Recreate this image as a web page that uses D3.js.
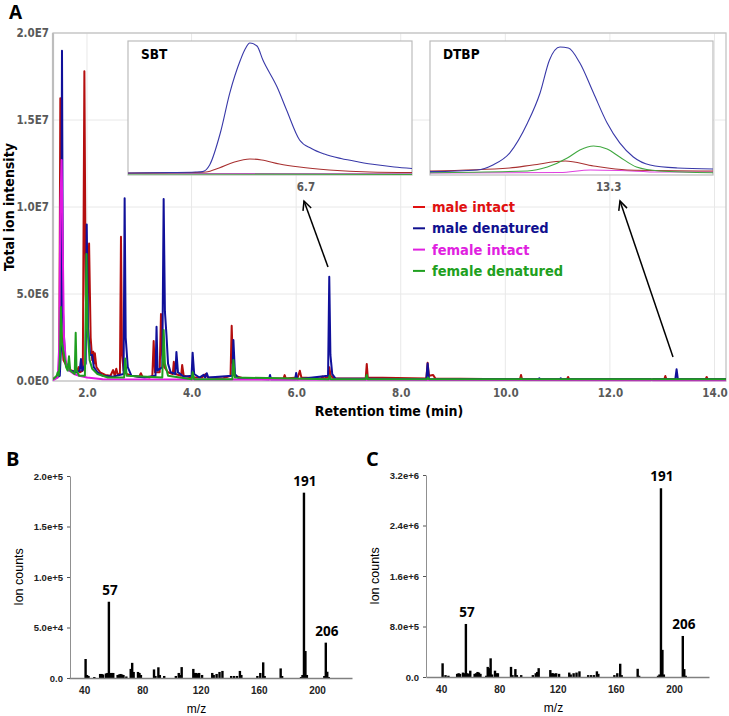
<!DOCTYPE html>
<html><head><meta charset="utf-8">
<script src="https://cdn.jsdelivr.net/npm/d3@7"></script>
<style>body{margin:0;background:#fff}svg{display:block}</style>
</head><body>
<svg id="c" width="729" height="716"></svg>
<script>
// ---------- DATA ----------
const seriesNames = ["male intact","male denatured","female intact","female denatured"];
const seriesColors = ["#b40e0e","#10109a","#e018e0","#1f9e1f"];
const legendColors = ["#e01010","#10108f","#e020e0","#20a020"];
const xTicksA = [2,4,6,8,10,12,14];
const yTicksA = [0,5e6,1e7,1.5e7,2e7];
const yTickLabelsA = ["0.0E0","5.0E6","1.0E7","1.5E7","2.0E7"];

// chromatogram points [time (min), total ion intensity]
const maleIntact = [[1.35,1e5],[1.44,3e5],[1.47,6e5],[1.49,1.625e7],[1.51,3e6],[1.55,1.2e6],[1.62,8e5],[1.70,6e5],[1.80,5e5],[1.84,8e5],[1.86,5e5],[1.92,6e5],[1.95,1.78e7],[1.975,5e6],[2.0,3e6],[2.04,7.9e6],[2.07,2.5e6],[2.10,1.2e6],[2.12,1.68e6],[2.135,1.0e6],[2.15,1.6e6],[2.18,8e5],[2.25,5e5],[2.35,3.5e5],[2.45,3e5],[2.50,6.3e5],[2.53,3e5],[2.56,7e5],[2.59,3.5e5],[2.63,4e5],[2.65,8.29e6],[2.67,1.5e6],[2.70,6e5],[2.76,4e5],[2.85,3e5],[3.0,2.5e5],[3.03,4.5e5],[3.06,2.5e5],[3.20,2e5],[3.25,3e5],[3.275,2.3e6],[3.30,5e5],[3.39,5e5],[3.415,3.85e6],[3.44,1.5e6],[3.48,8e5],[3.55,5e5],[3.64,4e5],[3.66,1.1e6],[3.69,4e5],[3.80,3e5],[3.82,9.2e5],[3.85,3e5],[4.0,2e5],[4.2,2e5],[4.27,4e5],[4.31,2e5],[4.6,1.5e5],[4.745,3e5],[4.767,3.18e6],[4.79,1.0e6],[4.82,3e5],[5.0,1.5e5],[5.76,1.5e5],[5.78,3.4e5],[5.80,1.5e5],[6.03,2e5],[6.07,5.9e5],[6.10,2e5],[6.48,1.5e5],[6.5,2.5e5],[6.52,1.5e5],[6.61,2e5],[6.633,7.9e5],[6.66,3e5],[6.72,1.5e5],[7.33,1.5e5],[7.35,9.8e5],[7.37,2e5],[8.49,1.5e5],[8.514,1.05e6],[8.54,3e5],[8.62,3.5e5],[8.66,1.5e5],[10.28,1e5],[10.30,3.4e5],[10.32,1e5],[11.18,1e5],[11.2,2.3e5],[11.22,1e5],[13.04,1e5],[13.06,2.9e5],[13.08,1e5],[13.83,1e5],[13.85,2.3e5],[13.87,1e5],[14.22,1e5]];
const maleDenatured = [[1.35,1e5],[1.48,3e5],[1.505,2e6],[1.522,1.898e7],[1.54,4e6],[1.58,1.2e6],[1.66,6e5],[1.80,5e5],[1.86,6e5],[1.885,1.26e6],[1.91,6e5],[1.975,1.0e6],[1.995,9.0e6],[2.02,3e6],[2.06,1.5e6],[2.10,1.5e6],[2.13,8e5],[2.2,5e5],[2.3,3e5],[2.5,2.5e5],[2.70,4e5],[2.72,1.05e7],[2.74,2.5e6],[2.78,8e5],[2.85,3e5],[3.1,2e5],[3.31,3e5],[3.33,3.12e6],[3.35,6e5],[3.44,8e5],[3.466,1.046e7],[3.49,4e6],[3.52,2.64e6],[3.55,1.0e6],[3.6,5e5],[3.69,4e5],[3.71,1.67e6],[3.74,5e5],[3.85,2.5e5],[4.0,3e5],[4.02,1.63e6],[4.05,4e5],[4.15,2e5],[4.23,3.5e5],[4.26,2e5],[4.29,4.5e5],[4.32,2e5],[4.78,3e5],[4.80,2.36e6],[4.83,4e5],[4.9,1.5e5],[5.48,1e5],[5.5,3.4e5],[5.52,1e5],[5.98,1e5],[6.0,4.6e5],[6.02,1e5],[6.61,3e5],[6.633,5.99e6],[6.655,1.5e6],[6.69,4e5],[6.75,1.5e5],[8.49,1e5],[8.514,1.0e6],[8.54,1e5],[10.63,1e5],[10.65,1.5e5],[10.67,1e5],[11.04,1e5],[11.06,1.5e5],[11.08,1e5],[13.25,1e5],[13.275,6.7e5],[13.30,1e5],[14.22,1e5]];
const femaleIntact = [[1.35,5e4],[1.44,2e5],[1.47,2e6],[1.49,1.0e7],[1.515,1.27e7],[1.535,8e6],[1.56,2.5e6],[1.60,1.0e6],[1.66,6e5],[1.75,4e5],[1.85,3e5],[2.0,2e5],[2.3,1e5],[12.78,5e4],[12.8,1e5],[12.82,5e4],[14.22,5e4]];
const femaleDenatured = [[1.35,1e5],[1.42,3e5],[1.44,5e5],[1.46,3e5],[1.485,1.5e6],[1.50,4.25e6],[1.52,2.2e6],[1.56,1.5e6],[1.60,8e5],[1.63,6e5],[1.656,1.42e6],[1.68,6e5],[1.72,5e5],[1.765,4e5],[1.784,2.77e6],[1.80,6e5],[1.85,3e5],[1.96,3e5],[1.99,7.3e6],[2.01,3e6],[2.05,1.2e6],[2.1,7e5],[2.2,4e5],[2.4,2e5],[2.71,2e5],[2.73,1.3e6],[2.76,3e5],[3.44,2e5],[3.466,2.93e6],[3.49,1.0e6],[3.55,3e5],[4.0,1e5],[4.02,5e5],[4.05,1e5],[4.78,1e5],[4.80,1.2e6],[4.83,2e5],[6.62,1e5],[6.64,3e5],[6.66,1e5],[7.33,1e5],[7.35,3.5e5],[7.37,1e5],[8.5,1e5],[8.52,2e5],[8.54,1e5],[10.29,1e5],[10.30,1.5e5],[10.31,1e5],[14.22,1e5]];

// inset SBT [time, relative intensity]
const sbtBlue = [[6.550,0.8],[6.586,1.1],[6.607,1.5],[6.613,1.8],[6.619,6.9],[6.628,31.3],[6.636,61.8],[6.645,87],[6.649,95.4],[6.653,100],[6.659,97.7],[6.664,87],[6.676,66.4],[6.684,48.9],[6.695,26],[6.705,19.5],[6.716,15.2],[6.730,11.8],[6.745,9.2],[6.760,7.0],[6.775,5.4],[6.790,4.2]];
const sbtRed = [[6.550,0.8],[6.602,1.1],[6.616,1.5],[6.627,4.6],[6.640,9.2],[6.653,11.5],[6.663,10.7],[6.678,7.6],[6.695,5.3],[6.720,3.1],[6.754,1.5],[6.790,1.1]];
const sbtGreen = [[6.550,0],[6.790,-0.3]];
const sbtMagenta = [[6.550,0.4],[6.790,0.2]];
// inset DTBP
const dtbpBlue = [[13.130,1.8],[13.175,3.1],[13.190,6.9],[13.206,16],[13.223,38.9],[13.235,61.8],[13.244,87],[13.254,96.9],[13.262,96.2],[13.273,84.7],[13.286,61.8],[13.299,38.9],[13.311,23.7],[13.324,13],[13.340,6.9],[13.366,4.6],[13.400,3.8]];
const dtbpGreen = [[13.130,1.0],[13.223,2.3],[13.242,5.3],[13.261,12.2],[13.273,18.3],[13.286,21.4],[13.299,19.1],[13.311,13],[13.327,5.3],[13.349,2.3],[13.400,1.0]];
const dtbpRed = [[13.130,2.3],[13.206,4.6],[13.228,6.9],[13.259,9.9],[13.286,6.1],[13.318,3.1],[13.400,2.3]];
const dtbpMagenta = [[13.130,0.8],[13.254,1.1],[13.283,3.1],[13.311,2.7],[13.349,1.5],[13.400,1.5]];

// mass spectra [m/z, ion counts]
const specB = [[41,1.88e4],[42,3e3],[43,2e3],[47,1e3],[51,4e3],[52,4e3],[53,3.5e3],[55,4.5e3],[56,5e3],[57,7.55e4],[58,5e3],[59,5e3],[60,5e3],[63,3e3],[64,3.5e3],[65,4e3],[66,3.5e3],[67,3e3],[69,1.5e3],[72,9e3],[73,1.5e4],[74,6e3],[77,6e3],[78,5e3],[79,3e3],[88,8.5e3],[89,2e3],[91,1.06e4],[92,3e3],[95,2e3],[103,2e3],[105,5e3],[106,3e3],[107,1.08e4],[115,9e3],[116,5e3],[117,5e3],[118,4.5e3],[119,5e3],[121,3e3],[128,5e3],[129,3e3],[131,4e3],[133,6e3],[135,7e3],[141,2e3],[143,2e3],[145,2e3],[147,7e3],[148,3e3],[159,2e3],[161,5e3],[163,1.55e4],[164,2e3],[175,9.5e3],[176,2e3],[189,1e3],[190,3e3],[191,1.835e5],[192,2.67e4],[193,3e3],[205,2e3],[206,3.5e4],[207,6.2e3],[208,1e3]];
const specC = [[41,2.17e5],[43,3e4],[45,2e4],[51,5e4],[52,6e4],[53,5e4],[55,7e4],[56,6e4],[57,8.4e5],[58,6e4],[59,5e4],[60,1e5],[63,5e4],[64,6e4],[65,8e4],[66,7e4],[67,5e4],[71,2e4],[72,1.6e5],[73,1.4e5],[74,2.96e5],[75,4e4],[77,1e5],[78,6e4],[79,6e4],[88,1.6e5],[89,3e4],[91,1.25e5],[92,3e4],[95,3e4],[103,3e4],[105,6e4],[106,8e4],[107,1.4e5],[115,1.1e5],[116,6e4],[117,6e4],[118,5e4],[119,6e4],[121,5e4],[128,7e4],[129,4e4],[131,6e4],[133,7e4],[135,9e4],[141,3e4],[143,3e4],[145,3e4],[147,9e4],[148,5e4],[159,3e4],[161,6e4],[163,2.1e5],[164,3e4],[175,1.3e5],[176,2e4],[189,2e4],[190,4e4],[191,2.99e6],[192,4.3e5],[193,4e4],[206,6.5e5],[207,1.25e5],[208,2e4]];
const xTicksMS = [40,80,120,160,200];
const yTicksB = [0,5e4,1e5,1.5e5,2e5];
const yTickLabelsB = ["0.0","5.0e+4","1.0e+5","1.5e+5","2.0e+5"];
const yTicksC = [0,8e5,1.6e6,2.4e6,3.2e6];
const yTickLabelsC = ["0.0","8.0e+5","1.6e+6","2.4e+6","3.2e+6"];
const peakLabels = [57,191,206];

// ---------- DRAW ----------
const svg = d3.select("#c");
const FA = "DejaVu Sans Condensed, DejaVu Sans, Verdana, sans-serif";
const FB = "Liberation Sans, Arial, sans-serif";

// Panel A
const A = {l:53, r:726, t:33, b:381};
const x = d3.scaleLinear().domain([1.35,14.22]).range([A.l,A.r]);
const y = d3.scaleLinear().domain([0,2e7]).range([A.b,A.t]);

const gA = svg.append("g");
gA.append("g").selectAll("line").data(xTicksA).join("line")
  .attr("x1",d=>x(d)).attr("x2",d=>x(d)).attr("y1",A.t).attr("y2",A.b)
  .attr("stroke","#e8e8e8").attr("stroke-width",1);
gA.append("g").selectAll("line").data(yTicksA).join("line")
  .attr("x1",A.l).attr("x2",A.r).attr("y1",d=>y(d)).attr("y2",d=>y(d))
  .attr("stroke","#e8e8e8").attr("stroke-width",1);
gA.append("rect").attr("x",A.l).attr("y",A.t).attr("width",A.r-A.l).attr("height",A.b-A.t)
  .attr("fill","none").attr("stroke","#c4c4c4").attr("stroke-width",1.3);
gA.append("line").attr("x1",A.l).attr("x2",A.l).attr("y1",A.t).attr("y2",A.b)
  .attr("stroke","#bdbdbd").attr("stroke-width",2.2);

const axX = gA.append("g").attr("transform",`translate(0,${A.b})`)
  .call(d3.axisBottom(x).tickValues(xTicksA).tickSize(0).tickPadding(8).tickFormat(d3.format(".1f")));
axX.select(".domain").remove();
axX.selectAll("text").attr("font-family",FA).attr("font-weight","bold").attr("font-size",11.5).attr("fill","#595959");
const axY = gA.append("g").attr("transform",`translate(${A.l},0)`)
  .call(d3.axisLeft(y).tickValues(yTicksA).tickSize(0).tickPadding(4).tickFormat((d,i)=>yTickLabelsA[i]));
axY.select(".domain").remove();
axY.selectAll("text").attr("font-family",FA).attr("font-weight","bold").attr("font-size",11.5).attr("fill","#595959");

svg.append("defs").append("clipPath").attr("id","clipA").append("rect")
  .attr("x",A.l).attr("y",A.t).attr("width",A.r-A.l).attr("height",A.b-A.t+2);
const line = d3.line().x(d=>x(d[0])).y(d=>y(d[1]));
const traces = [maleIntact, maleDenatured, femaleIntact, femaleDenatured];
const gT = gA.append("g").attr("clip-path","url(#clipA)");
traces.forEach((tr,i)=>{
  gT.append("path").attr("d",line(tr)).attr("fill","none")
    .attr("stroke",seriesColors[i]).attr("stroke-width",2).attr("stroke-linejoin","round");
});

svg.append("text").attr("x",389).attr("y",416).attr("text-anchor","middle")
  .attr("font-family",FA).attr("font-weight","bold").attr("font-size",14).text("Retention time (min)");
svg.append("text").attr("transform","translate(14,207) rotate(-90)").attr("text-anchor","middle")
  .attr("font-family",FA).attr("font-weight","bold").attr("font-size",14).text("Total ion intensity");
svg.append("text").attr("x",9).attr("y",19).attr("font-family","Open Sans, sans-serif").attr("font-weight","bold").attr("font-size",19).text("A");

// legend
const lg = svg.append("g");
seriesNames.forEach((n,i)=>{
  const yy = 207 + i*21.3;
  lg.append("line").attr("x1",413).attr("x2",425).attr("y1",yy).attr("y2",yy).attr("stroke",legendColors[i]).attr("stroke-width",2);
  lg.append("text").attr("x",432).attr("y",yy+5).attr("font-family",FA).attr("font-weight","bold")
    .attr("font-size",14.5).attr("fill",legendColors[i]).text(n);
});

// insets
function inset(l,r,t,b,dom,curves,label,tick){
  const g = svg.append("g");
  g.append("rect").attr("x",l).attr("y",t).attr("width",r-l).attr("height",b-t).attr("fill","#fff")
    .attr("stroke","#bcbcbc").attr("stroke-width",1.2);
  const xi = d3.scaleLinear().domain(dom).range([l,r]);
  const yi = d3.scaleLinear().domain([0,100]).range([174,43]);
  const li = d3.line().x(d=>xi(d[0])).y(d=>yi(d[1])).curve(d3.curveMonotoneX);
  curves.forEach(c=>{
    g.append("path").attr("d",li(c.d)).attr("fill","none").attr("stroke",c.col).attr("stroke-width",1.1);
  });
  g.append("text").attr("x",l+13).attr("y",t+18).attr("font-family",FA).attr("font-weight","bold").attr("font-size",13.5).text(label);
  const ax = g.append("g").attr("transform",`translate(0,${b})`)
    .call(d3.axisBottom(xi).tickValues([tick]).tickSize(0).tickPadding(8).tickFormat(d3.format(".1f")));
  ax.select(".domain").remove();
  ax.selectAll("text").attr("font-family",FA).attr("font-weight","bold").attr("font-size",11.5).attr("fill","#595959");
}
inset(128,412,41,175,[6.55,6.79],[
  {d:sbtMagenta,col:"#e040e0"},{d:sbtGreen,col:"#40a840"},{d:sbtRed,col:"#a83030"},{d:sbtBlue,col:"#3838a8"}],"SBT",6.7);
inset(430,713,41,175,[13.13,13.40],[
  {d:dtbpMagenta,col:"#e040e0"},{d:dtbpRed,col:"#a83030"},{d:dtbpGreen,col:"#40a840"},{d:dtbpBlue,col:"#3838a8"}],"DTBP",13.3);

// arrows
function arrow(x1,y1,x2,y2){
  svg.append("line").attr("x1",x1).attr("y1",y1).attr("x2",x2).attr("y2",y2).attr("stroke","#000").attr("stroke-width",1.5);
  const a = Math.atan2(y2-y1,x2-x1), L=10, w=0.45;
  const p = [[x2-L*Math.cos(a-w),y2-L*Math.sin(a-w)],[x2,y2],[x2-L*Math.cos(a+w),y2-L*Math.sin(a+w)]];
  svg.append("path").attr("d",d3.line()(p)).attr("fill","none").attr("stroke","#000").attr("stroke-width",1.5);
}
arrow(328,267,304,201);
arrow(673,357,620,201);

// Mass spectra
function spectrum(o){
  const xs = d3.scaleLinear().domain([29.6,224]).range([o.l,o.r]);
  const ys = d3.scaleLinear().domain([0,o.max]).range([o.b,o.t]);
  const g = svg.append("g");
  g.selectAll("rect.bar").data(o.data).join("rect").attr("class","bar")
    .attr("x",d=>xs(d[0])-1.2).attr("width",2.4).attr("y",d=>ys(d[1])).attr("height",d=>o.b-ys(d[1])).attr("fill","#000");
  const ax = g.append("g").attr("transform",`translate(0,${o.b})`)
    .call(d3.axisBottom(xs).tickValues(xTicksMS).tickSize(0).tickPadding(9));
  ax.select(".domain").attr("stroke","#808080").attr("stroke-width",1.3);
  ax.selectAll("text").attr("font-family",FB).attr("font-weight","bold").attr("font-size",10).attr("fill","#222");
  const ay = g.append("g").attr("transform",`translate(${o.ax},0)`)
    .call(d3.axisLeft(ys).tickValues(o.ticks).tickSize(3).tickSizeOuter(0).tickPadding(4).tickFormat((d,i)=>o.labels[i]));
  ay.select(".domain").attr("stroke","#909090").attr("stroke-width",1);
  ay.selectAll(".tick line").attr("stroke","#555");
  ay.selectAll("text").attr("font-family",FB).attr("font-weight","bold").attr("font-size",9.5).attr("fill","#222");
  g.append("text").attr("x",(o.l+o.r)/2-14).attr("y",o.b+35).attr("text-anchor","middle")
    .attr("font-family",FB).attr("font-size",12).text("m/z");
  g.append("text").attr("transform",`translate(${o.ax-47},${(o.t+o.b)/2}) rotate(-90)`).attr("text-anchor","middle")
    .attr("font-family",FB).attr("font-size",12.5).text("Ion counts");
  peakLabels.forEach(m=>{
    const d = o.data.find(e=>e[0]===m);
    g.append("text").attr("x",xs(m)+1).attr("y",ys(d[1])-7).attr("text-anchor","middle")
      .attr("font-family","Open Sans, sans-serif").attr("font-weight","bold").attr("font-size",13.5).text(String(m));
  });
  g.append("text").attr("x",o.lx).attr("y",466).attr("font-family","Open Sans, sans-serif").attr("font-weight","bold").attr("font-size",20).text(o.letter);
}
spectrum({l:69,r:352,t:476,b:678,ax:70,max:2e5,ticks:yTicksB,labels:yTickLabelsB,data:specB,letter:"B",lx:6});
spectrum({l:426,r:709,t:475,b:677,ax:426,max:3.2e6,ticks:yTicksC,labels:yTickLabelsC,data:specC,letter:"C",lx:366});
</script>
</body></html>
